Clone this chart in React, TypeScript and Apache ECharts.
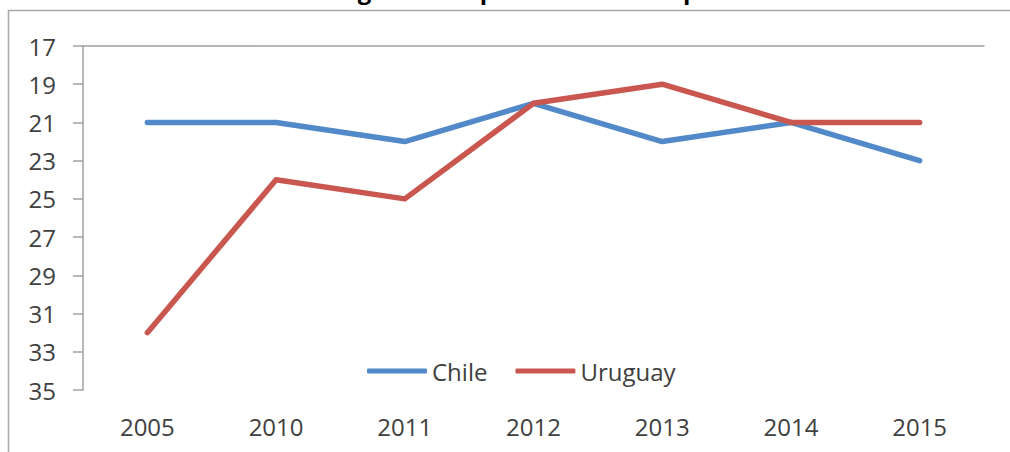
import React, { useEffect, useRef } from "react";
import * as echarts from "echarts";

const titleText = "Ranking de Percepción de la Corrupción";
const years = ["2005", "2010", "2011", "2012", "2013", "2014", "2015"];
const chile = [21, 21, 22, 20, 22, 21, 23];
const uruguay = [32, 24, 25, 20, 19, 21, 21];
const yTicks = [17, 19, 21, 23, 25, 27, 29, 31, 33, 35];

const FONT = "'Open Sans', 'Noto Sans', sans-serif";
const AXIS_GRAY = "#a0a0a0";
const TEXT = "#404040";
const BLUE = "#5189c9";
const RED = "#c9574f";

export default function App() {
  const ref = useRef<HTMLDivElement>(null);
  useEffect(() => {
    if (!ref.current) return;
    const chart = echarts.init(ref.current, null, { renderer: "svg" });
    chart.setOption({
      animation: false,
      backgroundColor: "#ffffff",
      textStyle: { fontFamily: FONT },
      graphic: [
        {
          type: "rect",
          shape: { x: 8.5, y: 10.5, width: 1200, height: 800 },
          style: { fill: "none", stroke: "#a8a8a8", lineWidth: 1.5 },
          silent: true,
        },
        {
          type: "text",
          x: 511,
          y: -11,
          style: {
            text: titleText,
            font: `bold 24px ${FONT}`,
            fill: "#000000",
            align: "center",
            verticalAlign: "middle",
          },
          silent: true,
        },
      ],
      grid: { left: 83, right: 26, top: 46, bottom: 62, containLabel: false },
      legend: {
        left: 362,
        top: 354,
        itemWidth: 60,
        itemHeight: 5,
        itemGap: 28,
        textStyle: { fontFamily: FONT, fontSize: 24, color: TEXT },
        data: [
          { name: "Chile", icon: "roundRect" },
          { name: "Uruguay", icon: "roundRect" },
        ],
      },
      xAxis: [
        {
          type: "category",
          data: years,
          boundaryGap: true,
          position: "bottom",
          axisLine: { show: false, onZero: false },
          axisTick: { show: false },
          axisLabel: { fontFamily: FONT, fontSize: 24, color: TEXT, margin: 24 },
        },
        {
          type: "category",
          data: years,
          boundaryGap: true,
          position: "top",
          axisLine: { show: true, onZero: false, lineStyle: { color: AXIS_GRAY, width: 1.5 } },
          axisTick: { show: false },
          axisLabel: { show: false },
        },
      ],
      yAxis: {
        type: "value",
        min: 17,
        max: 35,
        inverse: true,
        axisLine: { show: true, lineStyle: { color: AXIS_GRAY, width: 1.5 } },
        axisTick: { show: true, length: 10, customValues: yTicks, lineStyle: { color: AXIS_GRAY, width: 1.5 } },
        axisLabel: { fontFamily: FONT, fontSize: 24, color: TEXT, margin: 27, customValues: yTicks },
        splitLine: { show: false },
      },
      series: [
        {
          name: "Chile",
          type: "line",
          data: chile,
          symbol: "none",
          lineStyle: { color: BLUE, width: 5.5, cap: "round", join: "round" },
          itemStyle: { color: BLUE },
        },
        {
          name: "Uruguay",
          type: "line",
          data: uruguay,
          symbol: "none",
          lineStyle: { color: RED, width: 5.5, cap: "round", join: "round" },
          itemStyle: { color: RED },
        },
      ],
    });
    return () => chart.dispose();
  }, []);
  return (
    <div
      ref={ref}
      style={{ position: "fixed", left: 0, top: 0, width: 1010, height: 452 }}
    />
  );
}
